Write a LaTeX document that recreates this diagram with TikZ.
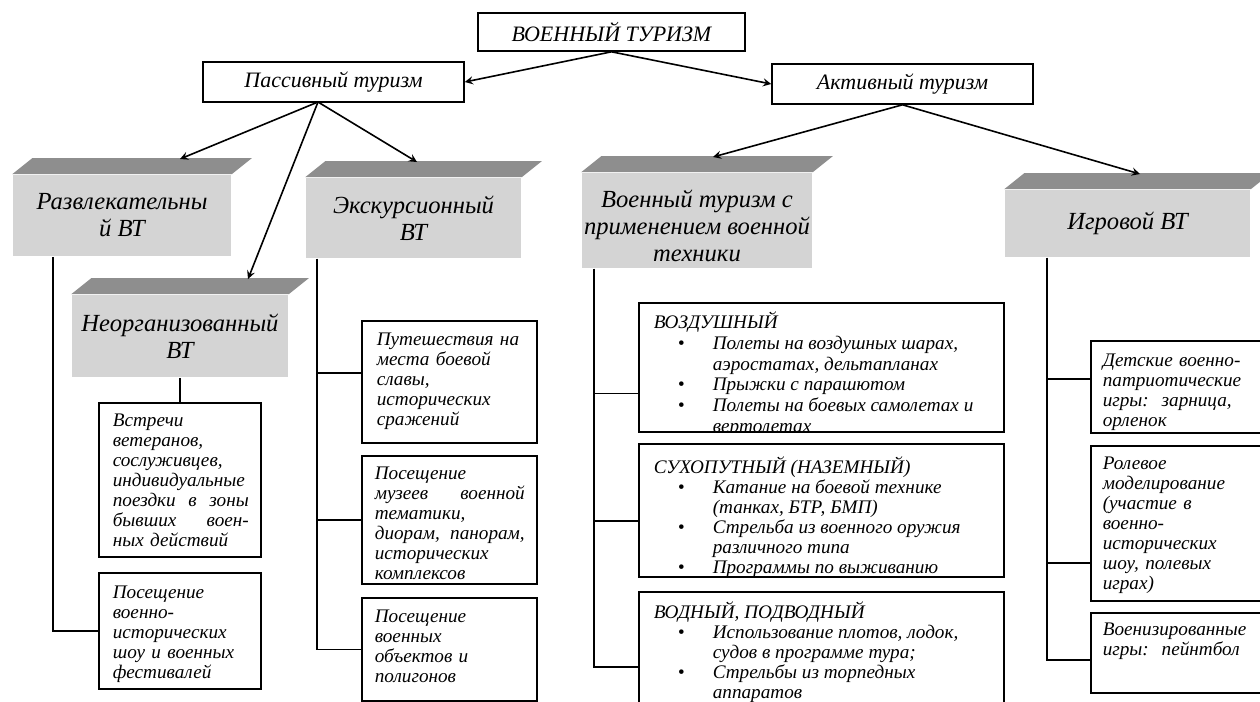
\documentclass[tikz,border=0pt]{standalone}
\usepackage{fontspec}
\setmainfont{Liberation Serif}
\usetikzlibrary{positioning, calc, arrows}

\definecolor{lidgray}{HTML}{8E8E8E}
\definecolor{facegray}{HTML}{D4D4D4}

\newcommand{\lid}[1]{\fill[lidgray] (#1.north west) -- ++(10pt,8pt) -- ([shift={(10pt,8pt)}]#1.north east) -- (#1.north east) -- cycle;}
\newcommand{\bul}{\hspace*{12pt}\makebox[17.5pt][l]{\textbullet}}
\newcommand{\ind}{\hspace*{29.5pt}}

\begin{document}
\begin{tikzpicture}[x=0.5pt, y=-0.5pt, >=stealth, line width=0.8pt,
  head/.style={draw, fill=white, inner sep=0pt, font=\fontsize{11}{12}\selectfont\itshape},
  face/.style={fill=facegray, inner sep=0pt, align=center, font=\fontsize{12.3}{13.5}\selectfont\itshape},
  box/.style={draw, fill=white, inner sep=0pt},
  txt/.style={anchor=north west, draw=none, fill=none, minimum width=0pt, minimum height=0pt,
    inner sep=0pt, align=left, font=\fontsize{9.6}{10}\selectfont\itshape}]

  \useasboundingbox (0,0) rectangle (1260,702);

  \node[head, minimum width=133.5pt, minimum height=19pt] (vt) at (611.5,32) {ВОЕННЫЙ ТУРИЗМ};
  \node[head, minimum width=130.5pt, minimum height=20pt] (pas) at (333.5,82) {Пассивный туризм};
  \node[head, minimum width=130.5pt, minimum height=20pt] (act) at (902.5,84) {Активный туризм};

  \node[face, minimum width=109pt, minimum height=40.5pt] (razv) at (122,215.5) {Развлекательны\\й ВТ};
  \node[face, minimum width=108pt, minimum height=41pt] (neorg) at (180,336) {Неорганизованный\\ВТ};
  \node[face, minimum width=107.5pt, minimum height=40pt] (eksk) at (413.5,218) {Экскурсионный\\ВТ};
  \node[face, minimum width=115pt, minimum height=47.5pt] (tech) at (697,220.5) {\rule{0pt}{14pt}Военный туризм с\\применением военной\\техники};
  \node[face, minimum width=122.5pt, minimum height=33.5pt] (igr) at (1127.5,223.5) {Игровой ВТ};
  \lid{razv} \lid{neorg} \lid{eksk} \lid{tech} \lid{igr}

  \node[box, minimum width=81pt, minimum height=77pt, path picture={\node[txt, text width=68pt] (vstr-t) at ([shift={(6.5pt,-5pt)}]path picture bounding box.north west)
    {Встречи\\ветеранов,\\сослуживцев,\\индивидуальные\\поездки\hfill в\hfill зоны\\бывших\hfill воен-\\ных действий};}] (vstr) at (180,480) {};
  \node[box, minimum width=81pt, minimum height=58pt, path picture={\node[txt, text width=70pt] (shou-t) at ([shift={(6.5pt,-6pt)}]path picture bounding box.north west)
    {Посещение\\военно-\\исторических\\шоу и военных\\фестивалей};}] (shou) at (180,631) {};

  \node[box, minimum width=87.5pt, minimum height=61pt, path picture={\node[txt, text width=75pt] (ek1-t) at ([shift={(7pt,-5.5pt)}]path picture bounding box.north west)
    {Путешествия на\\места боевой\\славы,\\исторических\\сражений};}] (ek1) at (449.5,382) {};
  \node[box, minimum width=87.5pt, minimum height=64pt, path picture={\node[txt, text width=75pt] (ek2-t) at ([shift={(6pt,-5pt)}]path picture bounding box.north west)
    {Посещение\\музеев\hfill военной\\тематики,\\диорам,\hfill панорам,\\исторических\\комплексов};}] (ek2) at (449.5,520) {};
  \node[box, minimum width=87.5pt, minimum height=51.5pt, path picture={\node[txt, text width=75pt] (ek3-t) at ([shift={(6pt,-5.5pt)}]path picture bounding box.north west)
    {Посещение\\военных\\объектов и\\полигонов};}] (ek3) at (449.5,649.5) {};

  \node[box, minimum width=182.5pt, minimum height=64.5pt, path picture={\node[txt, font=\fontsize{9.6}{10.4}\selectfont\itshape] (t1-t) at ([shift={(7pt,-4pt)}]path picture bounding box.north west)
    {ВОЗДУШНЫЙ\\\bul Полеты на воздушных шарах,\\\ind аэростатах, дельтапланах\\\bul Прыжки с парашютом\\\bul Полеты на боевых самолетах и\\\ind вертолетах};}] (t1) at (821.5,367.5) {};
  \node[box, minimum width=182.5pt, minimum height=66.5pt, path picture={\node[txt] (t2-t) at ([shift={(7pt,-6pt)}]path picture bounding box.north west)
    {СУХОПУТНЫЙ (НАЗЕМНЫЙ)\\\bul Катание на боевой технике\\\ind (танках, БТР, БМП)\\\bul Стрельба из военного оружия\\\ind различного типа\\\bul Программы по выживанию};}] (t2) at (821.5,510.5) {};
  \node[box, minimum width=182.5pt, minimum height=60pt, path picture={\node[txt] (t3-t) at ([shift={(7pt,-4.5pt)}]path picture bounding box.north west)
    {ВОДНЫЙ, ПОДВОДНЫЙ\\\bul Использование плотов, лодок,\\\ind судов в программе тура;\\\bul Стрельбы из торпедных\\\ind аппаратов};}] (t3) at (821.5,652) {};

  \node[box, minimum width=85.5pt, minimum height=46pt, path picture={\node[txt, text width=72.5pt] (g1-t) at ([shift={(5.5pt,-6pt)}]path picture bounding box.north west)
    {Детские военно-\\патриотические\\игры:~~зарница,\\орленок};}] (g1) at (1176.5,387) {};
  \node[box, minimum width=85.5pt, minimum height=77.5pt, path picture={\node[txt, text width=72.5pt] (g2-t) at ([shift={(5.5pt,-5pt)}]path picture bounding box.north west)
    {Ролевое\\моделирование\\(участие в\\военно-\\исторических\\шоу, полевых\\играх)};}] (g2) at (1176.5,523.5) {};
  \node[box, minimum width=85.5pt, minimum height=40pt, path picture={\node[txt, text width=72.5pt] (g3-t) at ([shift={(5.5pt,-4.5pt)}]path picture bounding box.north west)
    {Военизированные\\игры:~~пейнтбол};}] (g3) at (1176.5,653) {};

  \draw ([xshift=20.5pt]razv.south west) |- (shou.west);
  \draw (neorg.south) -- (vstr.north);
  \draw ([xshift=6pt]eksk.south west) |- ([yshift=4.5pt]ek1.west);
  \draw ([xshift=6pt]eksk.south west) |- (ek2.west);
  \draw ([xshift=6pt]eksk.south west) |- (ek3.west);
  \draw ([xshift=6.5pt]tech.south west) |- ([yshift=-13pt]t1.west);
  \draw ([xshift=6.5pt]tech.south west) |- ([yshift=-5.25pt]t2.west);
  \draw ([xshift=6.5pt]tech.south west) |- ([yshift=-7.5pt]t3.west);
  \draw ([xshift=21.5pt]igr.south west) |- ([yshift=4pt]g1.west);
  \draw ([xshift=21.5pt]igr.south west) |- ([yshift=-19.75pt]g2.west);
  \draw ([xshift=21.5pt]igr.south west) |- ([yshift=-3.5pt]g3.west);

  \coordinate (pas-o) at (318,102);
  \coordinate (razv-in) at (180,159);
  \coordinate (neorg-in) at (248,279);
  \coordinate (eksk-in) at (417,162);
  \coordinate (tech-in) at (713,157);
  \coordinate (igr-in) at (1140,174);

  \draw[->] (vt.south) -- (pas.east);
  \draw[->] (vt.south) -- (act.west);
  \draw[->] (pas-o) -- (razv-in);
  \draw[->] (pas-o) -- (neorg-in);
  \draw[->] (pas-o) -- (eksk-in);
  \draw[->] (act.south) -- (tech-in);
  \draw[->] (act.south) -- (igr-in);
\end{tikzpicture}
\end{document}
